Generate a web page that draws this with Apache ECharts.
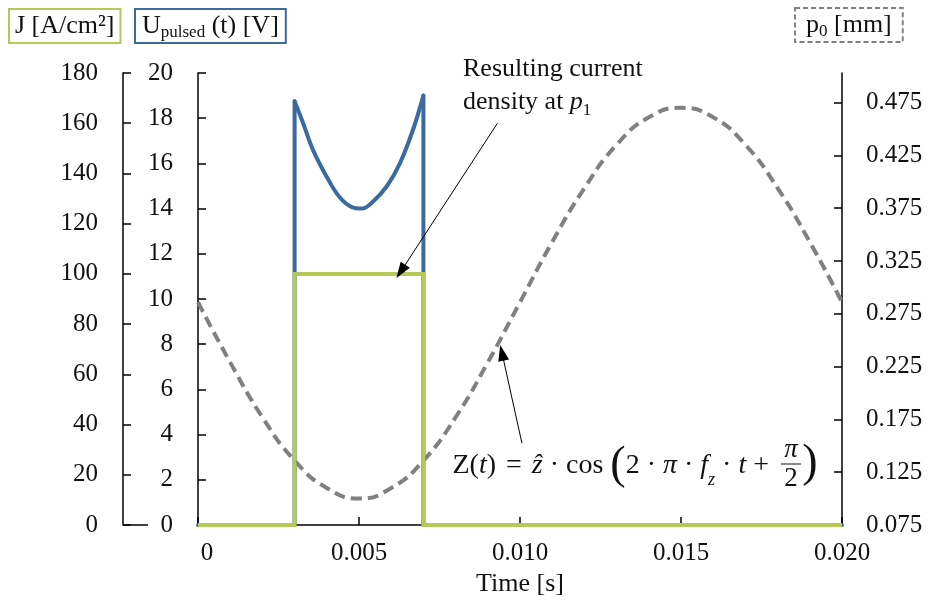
<!DOCTYPE html>
<html><head><meta charset="utf-8">
<script src="https://cdn.jsdelivr.net/npm/echarts@6/dist/echarts.min.js"></script>
<style>html,body{margin:0;padding:0;background:#fff}#c{width:928px;height:602px}</style>
</head><body><div id="c"></div>
<script>
// ---- data ----
const timeJ = [0, 0.003, 0.003, 0.007, 0.007, 0.020];
const currentJ = [0, 0, 100, 100, 0, 0];
// pulse edges of U(t)
const timeUEdges = [0, 0.003, 0.003, null, 0.007, 0.007, 0.020];
const voltageUEdges = [0, 0, 18.75, null, 19.0, 0, 0];
// U(t) during the pulse
const timeU = [0.003, 0.00326, 0.00357, 0.004, 0.0044, 0.0048, 0.0051, 0.00543, 0.00587, 0.00627, 0.00668, 0.007];
const voltageU = [18.75, 17.8, 16.6, 15.4, 14.5, 14.05, 14.0, 14.3, 15.0, 16.0, 17.5, 19.0];
const timeP = [0, 0.001, 0.002, 0.003, 0.004, 0.005, 0.006, 0.007, 0.008, 0.009, 0.010, 0.011, 0.012, 0.013, 0.014, 0.015, 0.016, 0.017, 0.018, 0.019, 0.020];
const positionP = [0.286, 0.229, 0.177, 0.136, 0.110, 0.100, 0.110, 0.136, 0.177, 0.229, 0.286, 0.343, 0.394, 0.435, 0.461, 0.470, 0.461, 0.435, 0.394, 0.343, 0.286];
const xTicks = [0, 0.005, 0.010, 0.015, 0.020];
const jTicks = [0, 20, 40, 60, 80, 100, 120, 140, 160, 180];
const uTicks = [0, 2, 4, 6, 8, 10, 12, 14, 16, 18, 20];
const pTicks = [0.075, 0.125, 0.175, 0.225, 0.275, 0.325, 0.375, 0.425, 0.475];
// annotation arrows (data coordinates)
const arrowJ = [[0.0093, 160], [0.0063, 101]];
const arrowP = [[0.01006, 0.1525], [0.00944, 0.238]];

const zip = (a, b) => a.map((v, i) => (v === null ? null : [v, b[i]]));
const SERIF = 'Liberation Serif';
const GREEN = '#B3C95A', BLUE = '#3B6AA0', GRAY = '#808080';
const axisLineStyle = { color: '#000', width: 1.5 };
const tick = { show: true, inside: true, length: 8, lineStyle: { color: '#000', width: 1.5 } };
const lbl = { color: '#111', fontFamily: SERIF, fontSize: 25 };
const richHead = {
  m: { fontFamily: SERIF, fontSize: 26, fill: '#111', lineHeight: 30, verticalAlign: 'middle' },
  s: { fontFamily: SERIF, fontSize: 17, fill: '#111', lineHeight: 17, verticalAlign: 'bottom' }
};

const chart = echarts.init(document.getElementById('c'), null, { renderer: 'canvas' });
chart.setOption({
  animation: false,
  backgroundColor: '#fff',
  grid: { left: 198, right: 86, top: 73, bottom: 77, containLabel: false },
  xAxis: {
    type: 'value', min: xTicks[0], max: xTicks[xTicks.length - 1], interval: 0.005,
    axisLine: { show: true, onZero: false, lineStyle: axisLineStyle },
    axisTick: tick, splitLine: { show: false },
    axisLabel: Object.assign({}, lbl, {
      margin: 16,
      formatter: v => v === 0 ? '{z|0}' : v.toFixed(3),
      rich: { z: { fontFamily: SERIF, fontSize: 25, color: '#111', padding: [0, 0, 0, 18] } }
    }),
    name: 'Time [s]', nameLocation: 'middle', nameGap: 44,
    nameTextStyle: { color: '#111', fontFamily: SERIF, fontSize: 26 }
  },
  yAxis: [
    {
      type: 'value', position: 'left', offset: 75, min: jTicks[0], max: jTicks[jTicks.length - 1], interval: 20,
      axisLine: { show: true, onZero: false, lineStyle: axisLineStyle }, axisTick: tick, splitLine: { show: false },
      axisLabel: Object.assign({}, lbl, { margin: 25 })
    },
    {
      type: 'value', position: 'left', offset: 0, min: uTicks[0], max: uTicks[uTicks.length - 1], interval: 2,
      axisLine: { show: true, onZero: false, lineStyle: axisLineStyle }, axisTick: tick, splitLine: { show: false },
      axisLabel: Object.assign({}, lbl, { margin: 25 })
    },
    {
      type: 'value', position: 'right', min: 0.075, max: 0.503,
      axisLine: { show: true, onZero: false, lineStyle: axisLineStyle },
      axisTick: Object.assign({}, tick, { customValues: pTicks }), splitLine: { show: false },
      axisLabel: Object.assign({}, lbl, { margin: 24, customValues: pTicks, formatter: v => v.toFixed(3) })
    }
  ],
  series: [
    {
      name: 'p0', type: 'line', yAxisIndex: 2, data: zip(timeP, positionP), smooth: 0.5,
      showSymbol: false, z: 1,
      lineStyle: { color: GRAY, width: 4, type: [11, 6], cap: 'butt' },
      markLine: {
        silent: true, animation: false, symbol: ['none', 'triangle'], symbolSize: [11, 16],
        lineStyle: { color: '#000', width: 1, type: 'solid' }, label: { show: false },
        data: [[{ coord: arrowP[0] }, { coord: arrowP[1] }]]
      }
    },
    {
      name: 'U edges', type: 'line', yAxisIndex: 1, data: zip(timeUEdges, voltageUEdges), showSymbol: false, z: 2,
      connectNulls: false,
      lineStyle: { color: BLUE, width: 4, join: 'round', cap: 'round' }
    },
    {
      name: 'U', type: 'line', yAxisIndex: 1, data: zip(timeU, voltageU), showSymbol: false, z: 2,
      smooth: 0.35,
      lineStyle: { color: BLUE, width: 4, join: 'round', cap: 'round' }
    },
    {
      name: 'J', type: 'line', yAxisIndex: 0, data: zip(timeJ, currentJ), showSymbol: false, z: 3,
      lineStyle: { color: GREEN, width: 4, join: 'miter' },
      markLine: {
        silent: true, animation: false, symbol: ['none', 'triangle'], symbolSize: [11, 16],
        lineStyle: { color: '#000', width: 1, type: 'solid' }, label: { show: false },
        data: [[{ coord: arrowJ[0] }, { coord: arrowJ[1] }]]
      }
    }
  ],
  graphic: [
    { type: 'line', shape: { x1: 123, y1: 525, x2: 148, y2: 525 }, style: { stroke: '#000', lineWidth: 1.5 } },
    // axis headers
    { type: 'text', x: 9, y: 9, style: { text: '{m|J [A/cm²]}', rich: richHead, fill: '#111',
        borderColor: GREEN, borderWidth: 2, padding: [2, 6, 2, 6] } },
    { type: 'text', x: 135, y: 9, style: { text: '{m|U}{s|pulsed}{m| (t) [V]}', rich: richHead, fill: '#111',
        borderColor: BLUE, borderWidth: 2, padding: [2, 7, 2, 7] } },
    { type: 'text', x: 795, y: 8, style: { text: '{m|p}{s|0}{m| [mm]}', rich: richHead, fill: '#111',
        borderColor: GRAY, borderWidth: 2, borderDash: [5, 3], padding: [2, 11, 2, 11] } },
    {
      type: 'text', x: 463, y: 53,
      style: {
        text: '{n|Resulting current}\n{n|density at }{i|p}{s|1}',
        fill: '#111',
        rich: {
          n: { fontFamily: SERIF, fontSize: 26, lineHeight: 33, verticalAlign: 'middle', fill: '#111' },
          i: { fontFamily: SERIF, fontSize: 26, fontStyle: 'italic', lineHeight: 33, verticalAlign: 'middle', fill: '#111' },
          s: { fontFamily: SERIF, fontSize: 17, lineHeight: 17, verticalAlign: 'bottom', fill: '#111' }
        }
      }
    },
    {
      type: 'text', x: 776, y: 466,
      style: {
        text: '{u|Z(}{i|t}{u|) }{e|=}{u| }{i|ẑ}{u| · cos }{b|(}{u|2 · }{i|π}{u| · }{i|f}{s|z}{u| · }{i|t}{u| + }',
        align: 'right', textAlign: 'right', verticalAlign: 'middle', textVerticalAlign: 'middle',
        fill: '#111',
        rich: {
          u: { fontFamily: SERIF, fontSize: 28, fill: '#111', verticalAlign: 'middle' },
          e: { fontFamily: SERIF, fontSize: 28, fill: '#111', verticalAlign: 'middle', padding: [0, 3, 0, 3] },
          i: { fontFamily: SERIF, fontSize: 28, fontStyle: 'italic', fill: '#111', verticalAlign: 'middle' },
          s: { fontFamily: SERIF, fontSize: 18, fontStyle: 'italic', fill: '#111', verticalAlign: 'bottom', padding: [12, 0, 0, 0] },
          b: { fontFamily: SERIF, fontSize: 46, fill: '#111', verticalAlign: 'middle' }
        }
      }
    },
    { type: 'text', x: 791, y: 450, style: { text: 'π', font: 'italic 27px ' + SERIF, fill: '#111', align: 'center', textAlign: 'center', verticalAlign: 'middle', textVerticalAlign: 'middle' } },
    { type: 'line', shape: { x1: 781, y1: 464, x2: 801, y2: 464 }, style: { stroke: '#111', lineWidth: 1 } },
    { type: 'text', x: 791, y: 479, style: { text: '2', font: '27px ' + SERIF, fill: '#111', align: 'center', textAlign: 'center', verticalAlign: 'middle', textVerticalAlign: 'middle' } },
    { type: 'text', x: 810, y: 464, style: { text: ')', font: '46px ' + SERIF, fill: '#111', align: 'center', textAlign: 'center', verticalAlign: 'middle', textVerticalAlign: 'middle' } }
  ]
});
</script></body></html>
